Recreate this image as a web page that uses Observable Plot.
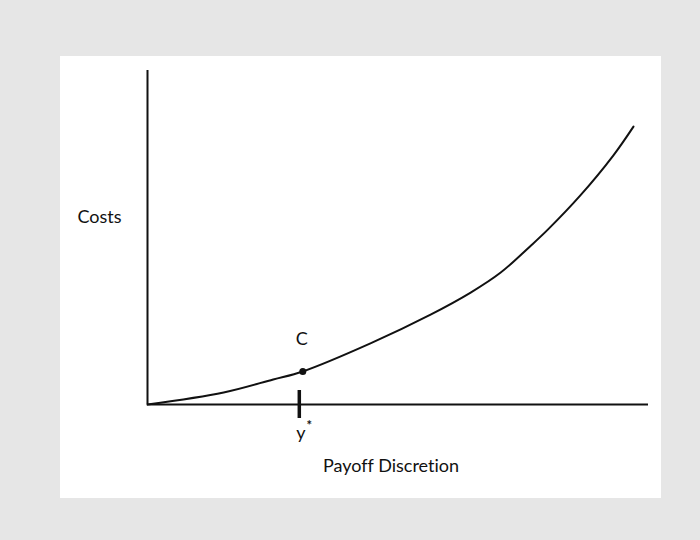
<!DOCTYPE html>
<html>
<head>
<meta charset="utf-8">
<script src="https://cdn.jsdelivr.net/npm/d3@7"></script>
<script src="https://cdn.jsdelivr.net/npm/@observablehq/plot@0.6"></script>
<style>
  html, body { margin: 0; padding: 0; }
  body { width: 700px; height: 540px; background: #e6e6e6; position: relative; overflow: hidden; }
  #panel { position: absolute; left: 60px; top: 56px; width: 601px; height: 442px; background: #ffffff; }
  #panel svg { overflow: visible; }
  #panel svg text { font-variant-ligatures: none; font-feature-settings: "liga" 0; }
</style>
</head>
<body>
<div id="panel"></div>
<script>
// Cost curve (payoff discretion vs costs)
const discretion = [0, 15.2, 25.1, 31.0, 44.5, 56.5, 64.5, 70.5, 76.4, 79.8, 86.4, 93.0, 97.0];
const costs      = [0, 3.6, 7.5, 9.9, 18.3, 26.9, 33.5, 39.5, 47.4, 52.2, 62.6, 74.6, 83.2];

// Marked point C and the optimum y*
const pointLabel = "C";
const pointX = 31.0;
const pointY = 9.9;
const yStar = 30.3;
const yStarLabel = "y";
const yStarSup = "*";

const yAxisTitle = "Costs";
const xAxisTitle = "Payoff Discretion";

const curve = discretion.map((d, i) => ({x: d, y: costs[i]}));
const pointC = [{x: pointX, y: pointY, label: pointLabel}];
const star = [{x: yStar, y: 0}];

const font = "Lato, 'Liberation Sans', sans-serif";
const ink = "#111";

const chart = Plot.plot({
  width: 601,
  height: 442,
  marginLeft: 87,
  marginRight: 13,
  marginTop: 14,
  marginBottom: 94,
  x: {domain: [0, 100], axis: null},
  y: {domain: [0, 100], axis: null},
  style: {background: "transparent", fontFamily: font, color: ink},
  marks: [
    Plot.ruleX([0], {stroke: ink, strokeWidth: 2}),
    Plot.ruleY([0], {stroke: ink, strokeWidth: 2}),
    Plot.line(curve, {x: "x", y: "y", curve: "catmull-rom", stroke: ink, strokeWidth: 2}),
    Plot.ruleX(star, {x: "x", y1: "y", y2: "y", insetTop: -14, insetBottom: -14, stroke: ink, strokeWidth: 3.5}),
    Plot.dot(pointC, {x: "x", y: "y", r: 3.5, fill: ink, stroke: "none"}),
    Plot.text(pointC, {x: "x", y: "y", text: "label", dy: -32, dx: -1, fontSize: 18, fill: ink}),
    Plot.text(star, {x: "x", y: "y", text: () => yStarLabel, dy: 29, dx: 1.5, fontSize: 18, fill: ink}),
    Plot.text(star, {x: "x", y: "y", text: () => yStarSup, dy: 21, dx: 10, fontSize: 13, fontWeight: "bold", fill: ink}),
    Plot.text([yAxisTitle], {frameAnchor: "left", textAnchor: "end", dx: -26, dy: -20, fontSize: 18, fill: ink}),
    Plot.text([xAxisTitle], {frameAnchor: "bottom", dx: -7, dy: 67, fontSize: 18, fill: ink})
  ]
});
document.getElementById("panel").appendChild(chart);
</script>
</body>
</html>
